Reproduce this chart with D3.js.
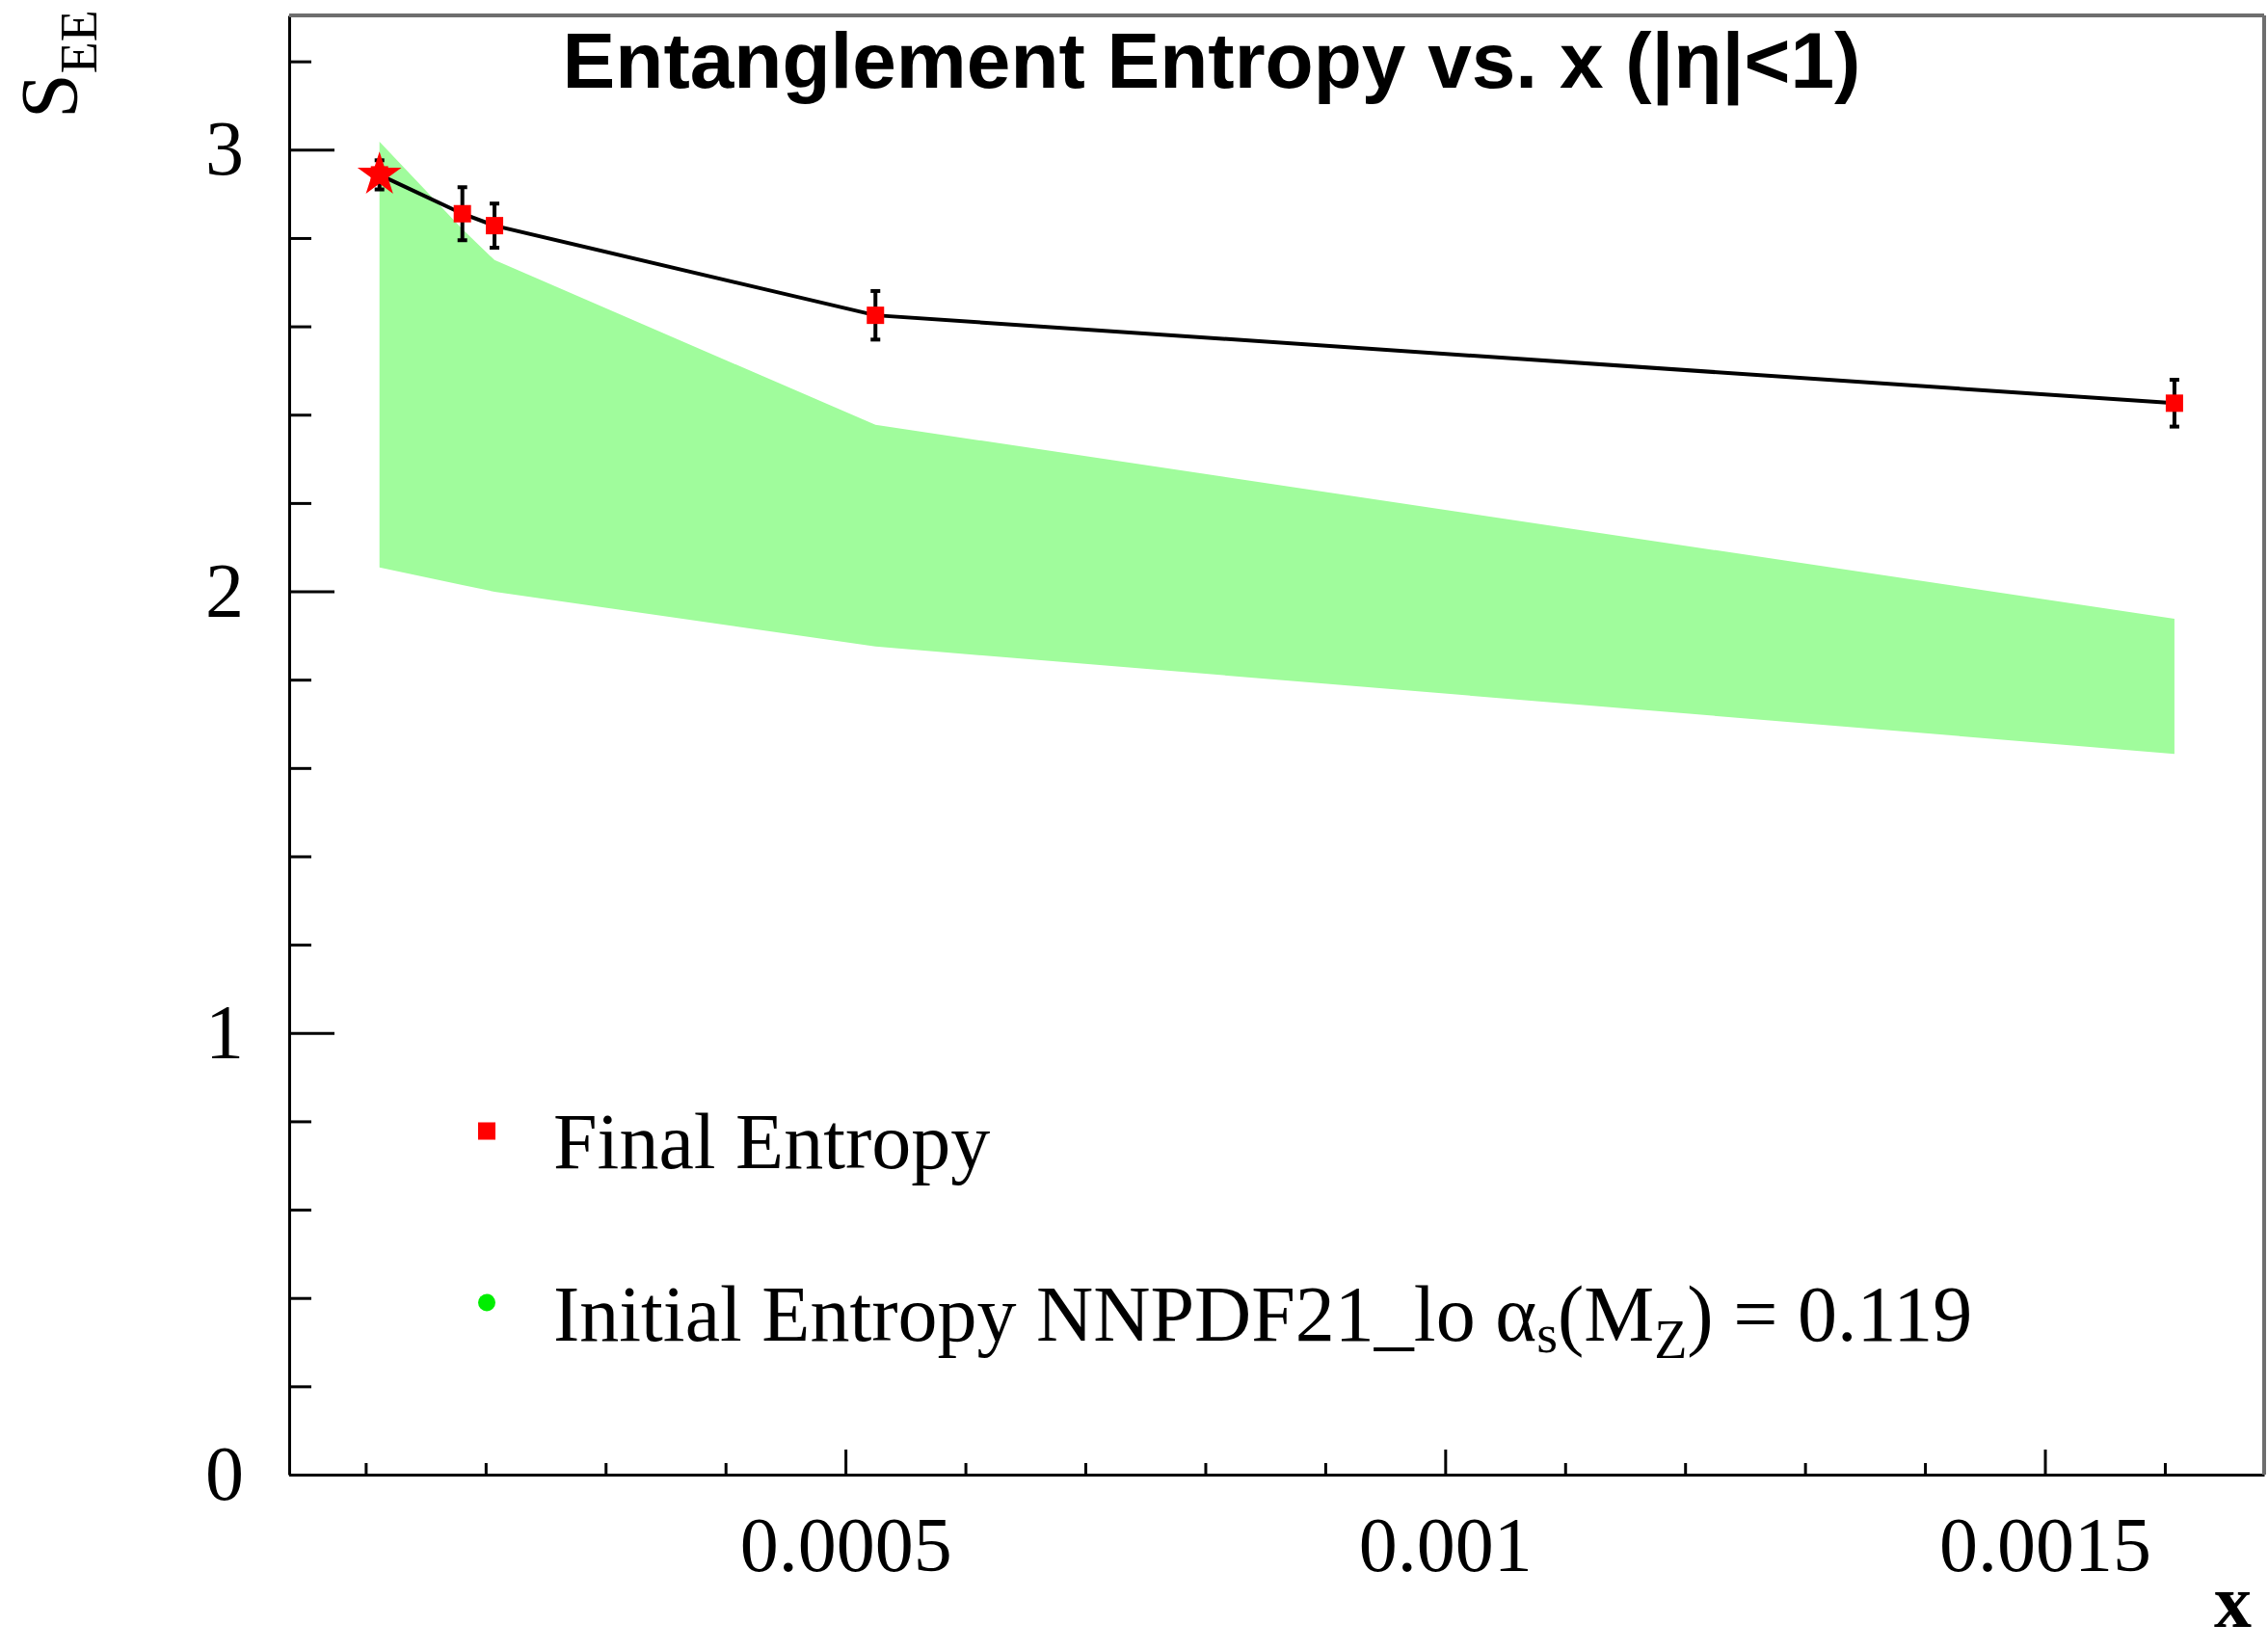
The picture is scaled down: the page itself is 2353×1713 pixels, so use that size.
<!DOCTYPE html>
<meta charset="utf-8" />
<head>
<title>Entanglement Entropy vs. x</title>
<script src="https://d3js.org/d3.v7.min.js"></script>
<style>
  body { margin: 0; background: #fff; }
  svg { display: block; background: #fff; }
  .tick text { font-family: "Liberation Serif", "Times New Roman", serif; font-size: 80px; fill: #000; }
  .axis path, .axis line { stroke: #000; stroke-width: 3px; }
  .serif { font-family: "Liberation Serif", "Times New Roman", serif; }
</style>
</head>
<body>
<script>

// chart data
var xVals     = [0.0001115, 0.0001806, 0.0002074, 0.000525, 0.001608];
var finalS    = [2.943, 2.855, 2.828, 2.625, 2.426];
var finalErr  = [0.033, 0.060, 0.050, 0.055, 0.053];
var initUpper = [3.018, 2.820, 2.750, 2.377, 1.938];
var initLower = [2.054, 2.014, 1.999, 1.875, 1.632];

var xMajor = [0.0005, 0.001, 0.0015];
var xMinor = [0.0001, 0.0002, 0.0003, 0.0004, 0.0006, 0.0007, 0.0008, 0.0009,
              0.0011, 0.0012, 0.0013, 0.0014, 0.0016];
var yMajor = [0, 1, 2, 3];
var yMinor = [0.2, 0.4, 0.6, 0.8, 1.2, 1.4, 1.6, 1.8, 2.2, 2.4, 2.6, 2.8, 3.2];

var legendLabels = ["Final Entropy", "Initial Entropy NNPDF21_lo"];

var W = 2353, H = 1713;
var frame = {left: 300, right: 2349, top: 16, bottom: 1530};

var x = d3.scaleLinear().domain([0.0000362, 0.0016828]).range([frame.left, frame.right]);
var y = d3.scaleLinear().domain([0, 3.304]).range([frame.bottom, frame.top]);

var svg = d3.select("body").append("svg")
    .attr("width", W)
    .attr("height", H);

var data = xVals.map(function(v, i) {
  return {x: v, s: finalS[i], err: finalErr[i], up: initUpper[i], lo: initLower[i]};
});

// green band (initial entropy)
var band = d3.area()
    .x(function(d) { return x(d.x); })
    .y0(function(d) { return y(d.lo); })
    .y1(function(d) { return y(d.up); });

svg.append("path")
    .datum(data)
    .attr("d", band)
    .attr("fill", "#a0fc9c");

// minor ticks
svg.append("g")
    .attr("class", "axis")
    .attr("transform", "translate(0," + frame.bottom + ")")
    .call(d3.axisBottom(x).tickValues(xMinor).tickSize(-12).tickFormat(""))
    .select(".domain").remove();

svg.append("g")
    .attr("class", "axis")
    .attr("transform", "translate(" + frame.left + ",0)")
    .call(d3.axisLeft(y).tickValues(yMinor).tickSize(-23).tickFormat(""))
    .select(".domain").remove();

// major axes
svg.append("g")
    .attr("class", "axis")
    .attr("transform", "translate(0," + frame.bottom + ")")
    .call(d3.axisBottom(x).tickValues(xMajor).tickSizeInner(-26).tickSizeOuter(0)
          .tickPadding(43).tickFormat(function(d) { return String(+d.toFixed(4)); }));

svg.append("g")
    .attr("class", "axis")
    .attr("transform", "translate(" + frame.left + ",0)")
    .call(d3.axisLeft(y).tickValues(yMajor).tickSizeInner(-47).tickSizeOuter(0)
          .tickPadding(47).tickFormat(d3.format("d")));

// top and right frame lines
svg.append("line")
    .attr("x1", frame.left).attr("x2", frame.right)
    .attr("y1", frame.top).attr("y2", frame.top)
    .attr("stroke", "#6e6e6e").attr("stroke-width", 4);
svg.append("line")
    .attr("x1", frame.right).attr("x2", frame.right)
    .attr("y1", frame.top).attr("y2", frame.bottom)
    .attr("stroke", "#6e6e6e").attr("stroke-width", 4);

// line through final entropy
var valueline = d3.line()
    .x(function(d) { return x(d.x); })
    .y(function(d) { return y(d.s); });

svg.append("path")
    .datum(data)
    .attr("d", valueline)
    .attr("fill", "none")
    .attr("stroke", "#000")
    .attr("stroke-width", 4);

// error bars
var eb = svg.append("g").attr("stroke", "#000").attr("stroke-width", 4);
data.forEach(function(d) {
  var cx = x(d.x);
  eb.append("line").attr("x1", cx).attr("x2", cx)
    .attr("y1", y(d.s + d.err)).attr("y2", y(d.s - d.err));
  [d.s + d.err, d.s - d.err].forEach(function(v) {
    eb.append("line").attr("x1", cx - 5).attr("x2", cx + 5)
      .attr("y1", y(v)).attr("y2", y(v));
  });
});

// markers
svg.selectAll(".pt")
    .data(data)
    .enter().append("rect")
    .attr("class", "pt")
    .attr("x", function(d) { return x(d.x) - 9; })
    .attr("y", function(d) { return y(d.s) - 9; })
    .attr("width", 18)
    .attr("height", 18)
    .attr("fill", "#ff0000");

// star on the first point
svg.append("path")
    .attr("d", d3.symbol().type(d3.symbolStar).size(650))
    .attr("transform", "translate(" + x(data[0].x) + "," + y(data[0].s) + ")")
    .attr("fill", "#ff0000");

// title
svg.append("text")
    .attr("x", 1257)
    .attr("y", 91)
    .attr("text-anchor", "middle")
    .style("font-family", "'Liberation Sans', Arial, sans-serif")
    .style("font-weight", "bold")
    .style("font-size", "82px")
    .text("Entanglement Entropy vs. x (|\u03b7|<1)");

// y axis title
var yt = svg.append("text")
    .attr("class", "serif")
    .attr("transform", "translate(80,123)rotate(-90)")
    .style("font-size", "84px");
yt.append("tspan").text("S");
yt.append("tspan").attr("dy", 20).style("font-size", "54px").text("EE");

// x axis title
svg.append("text")
    .attr("class", "serif")
    .attr("x", 2336)
    .attr("y", 1688)
    .attr("text-anchor", "end")
    .style("font-size", "78px")
    .style("font-weight", "bold")
    .text("x");

// legend
svg.append("rect")
    .attr("x", 496).attr("y", 1164.5)
    .attr("width", 18).attr("height", 18)
    .attr("fill", "#ff0000");
svg.append("circle")
    .attr("cx", 505).attr("cy", 1351.5).attr("r", 9)
    .attr("fill", "#00ee00");

svg.append("text")
    .attr("class", "serif")
    .attr("x", 574).attr("y", 1212)
    .style("font-size", "82px")
    .text(legendLabels[0]);

var lt = svg.append("text")
    .attr("class", "serif")
    .attr("x", 574).attr("y", 1391)
    .style("font-size", "82px");
lt.append("tspan").text(legendLabels[1] + " \u03b1");
lt.append("tspan").attr("dy", 12).style("font-size", "56px").text("s");
lt.append("tspan").attr("dy", -12).text("(M");
lt.append("tspan").attr("dy", 18).style("font-size", "56px").text("Z");
lt.append("tspan").attr("dy", -18).text(") = 0.119");

</script>
</body>
